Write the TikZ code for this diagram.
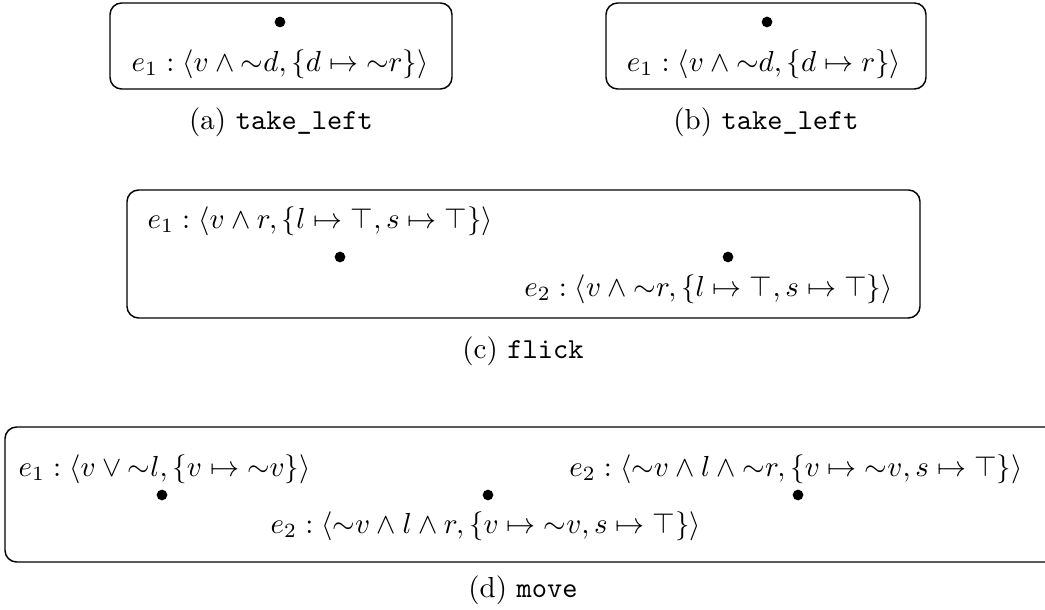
\documentclass[tikz,border=0pt]{standalone}
\usepackage{amsmath,amssymb}
\newcommand{\myneg}{{\sim}}
\begin{document}
\begin{tikzpicture}[x=0.345pt,y=-0.345pt,
  boxframe/.style={draw, line width=0.5pt, rounded corners=4pt},
  dotnode/.style={circle, fill=black, inner sep=0pt, minimum size=3.7pt},
  lbl/.style={inner sep=0pt},
  subcap/.style={inner sep=0pt}]
\useasboundingbox (0,0) rectangle (1045,610);
% (a)
\draw[boxframe] (110,3) rectangle (452,89);
\node[dotnode] (da) at (280,22) {};
\node[lbl] (ta) at (280,64) {$e_1 : \langle v \wedge \myneg d, \{d \mapsto \myneg r\}\rangle$};
\node[subcap] (ca) at (281,122) {(a) \texttt{take\_left}};
% (b)
\draw[boxframe] (606,3) rectangle (926,89);
\node[dotnode] (db) at (767,22) {};
\node[lbl] (tb) at (764,64) {$e_1 : \langle v \wedge \myneg d, \{d \mapsto r\}\rangle$};
\node[subcap] (cb) at (766,122) {(b) \texttt{take\_left}};
% (c)
\draw[boxframe] (127,190) rectangle (920,318);
\node[lbl, anchor=west] (tc1) at (147,221) {$e_1 : \langle v \wedge r, \{l \mapsto \top, s \mapsto \top\}\rangle$};
\node[dotnode] (dc1) at (340,257) {};
\node[dotnode] (dc2) at (728,257) {};
\node[lbl, anchor=east] (tc2) at (893,289) {$e_2 : \langle v \wedge \myneg r, \{l \mapsto \top, s \mapsto \top\}\rangle$};
\node[subcap] (cc) at (523,351) {(c) \texttt{flick}};
% (d)
\draw[boxframe] (5,427) rectangle (1060,562);
\node[lbl, anchor=west] (td1) at (18,469) {$e_1 : \langle v \vee \myneg l, \{v \mapsto \myneg v\}\rangle$};
\node[lbl, anchor=east] (td3) at (1023,469) {$e_2 : \langle \myneg v \wedge l \wedge \myneg r, \{v \mapsto \myneg v, s \mapsto \top\}\rangle$};
\node[dotnode] (dd1) at (162,495) {};
\node[dotnode] (dd2) at (488,495) {};
\node[dotnode] (dd3) at (798,495) {};
\node[lbl] (td2) at (486,526) {$e_2 : \langle \myneg v \wedge l \wedge r, \{v \mapsto \myneg v, s \mapsto \top\}\rangle$};
\node[subcap] (cd) at (523,590) {(d) \texttt{move}};
\end{tikzpicture}
\end{document}
